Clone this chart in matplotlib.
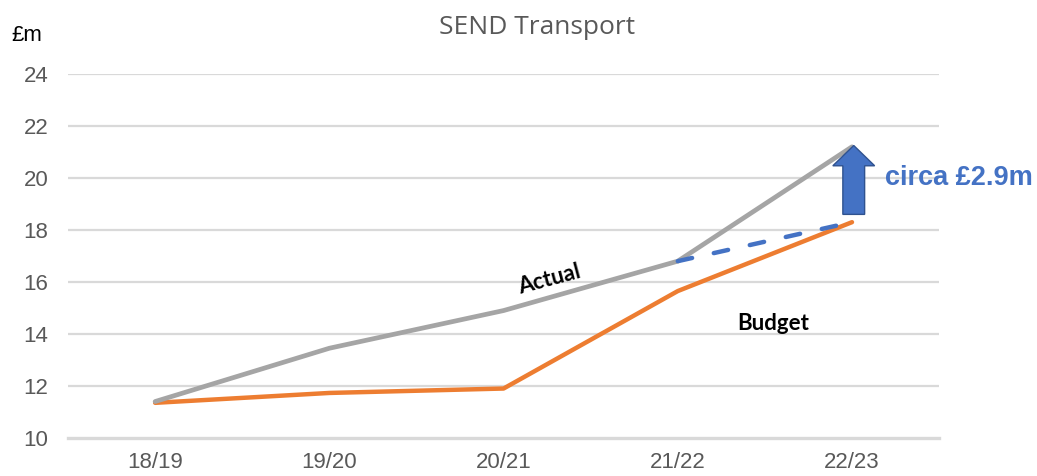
import matplotlib
matplotlib.use("Agg")
import matplotlib.pyplot as plt
from matplotlib.patches import FancyArrow

# ----------------------------
# Data
# ----------------------------
years = ["18/19", "19/20", "20/21", "21/22", "22/23"]
actual = [11.4, 13.45, 14.9, 16.8, 21.2]
budget = [11.35, 11.73, 11.9, 15.65, 18.3]
gap_label = "circa £2.9m"

GREY = "#a5a5a5"
ORANGE = "#ed7d31"
BLUE = "#4472c4"
TEXT = "#595959"

fig = plt.figure(figsize=(10.37, 4.76), dpi=100)
ax = fig.add_axes([0.0656, 0.080, 0.840, 0.7645])

x = list(range(len(years)))

# grid
for v in range(12, 25, 2):
    ax.axhline(v, color="#d9d9d9", lw=1.6, zorder=0)
ax.axhline(10, color="#d9d9d9", lw=2.4, zorder=0, clip_on=False)

ax.plot(x, budget, color=ORANGE, lw=3.2, solid_capstyle="round", zorder=3)
ax.plot(x, actual, color=GREY, lw=3.4, solid_capstyle="round", zorder=4)
# projected line if budget had followed actual
ax.plot([x[3], x[4]], [actual[3], budget[4]], color=BLUE, lw=3.2,
        ls=(0, (3.3, 5.0)), dash_capstyle="round", zorder=5)

# gap arrow
arr_x = x[4] + 0.01
ax.add_patch(FancyArrow(arr_x, 18.6, 0, actual[4] + 0.05 - 18.6,
                        width=0.125, head_width=0.24, head_length=0.78,
                        length_includes_head=True, facecolor=BLUE,
                        edgecolor="#2f528f", lw=1, zorder=6))
ax.text(x[4] + 0.19, 20.0, gap_label, color=BLUE, fontsize=19.5, fontweight="bold",
        family="Liberation Sans", va="center", ha="left", clip_on=False)

ax.text(2.26, 16.1, "Actual", rotation=15, fontsize=16, fontweight="bold",
        family="Lato", ha="center", va="center")
ax.text(3.55, 14.4, "Budget", fontsize=16, fontweight="bold",
        family="Lato", ha="center", va="center")

ax.set_xlim(-0.5, 4.5)
ax.set_ylim(10, 24)
ax.set_yticks(range(10, 25, 2))
ax.set_xticks(x)
ax.set_xticklabels(years)
ax.tick_params(length=0, labelsize=16, colors=TEXT)
ax.tick_params(axis="x", pad=10)
ax.tick_params(axis="y", pad=14)
for lab in ax.get_xticklabels() + ax.get_yticklabels():
    lab.set_family("Liberation Sans")
for s in ax.spines.values():
    s.set_visible(False)

fig.text(0.518, 0.943, "SEND Transport", ha="center", va="center",
         fontsize=19, color=TEXT, family="Open Sans")
fig.text(0.011, 0.925, "£m", ha="left", va="center", fontsize=16,
         color="black", family="Liberation Sans")

fig.savefig("out.png", dpi=100)
